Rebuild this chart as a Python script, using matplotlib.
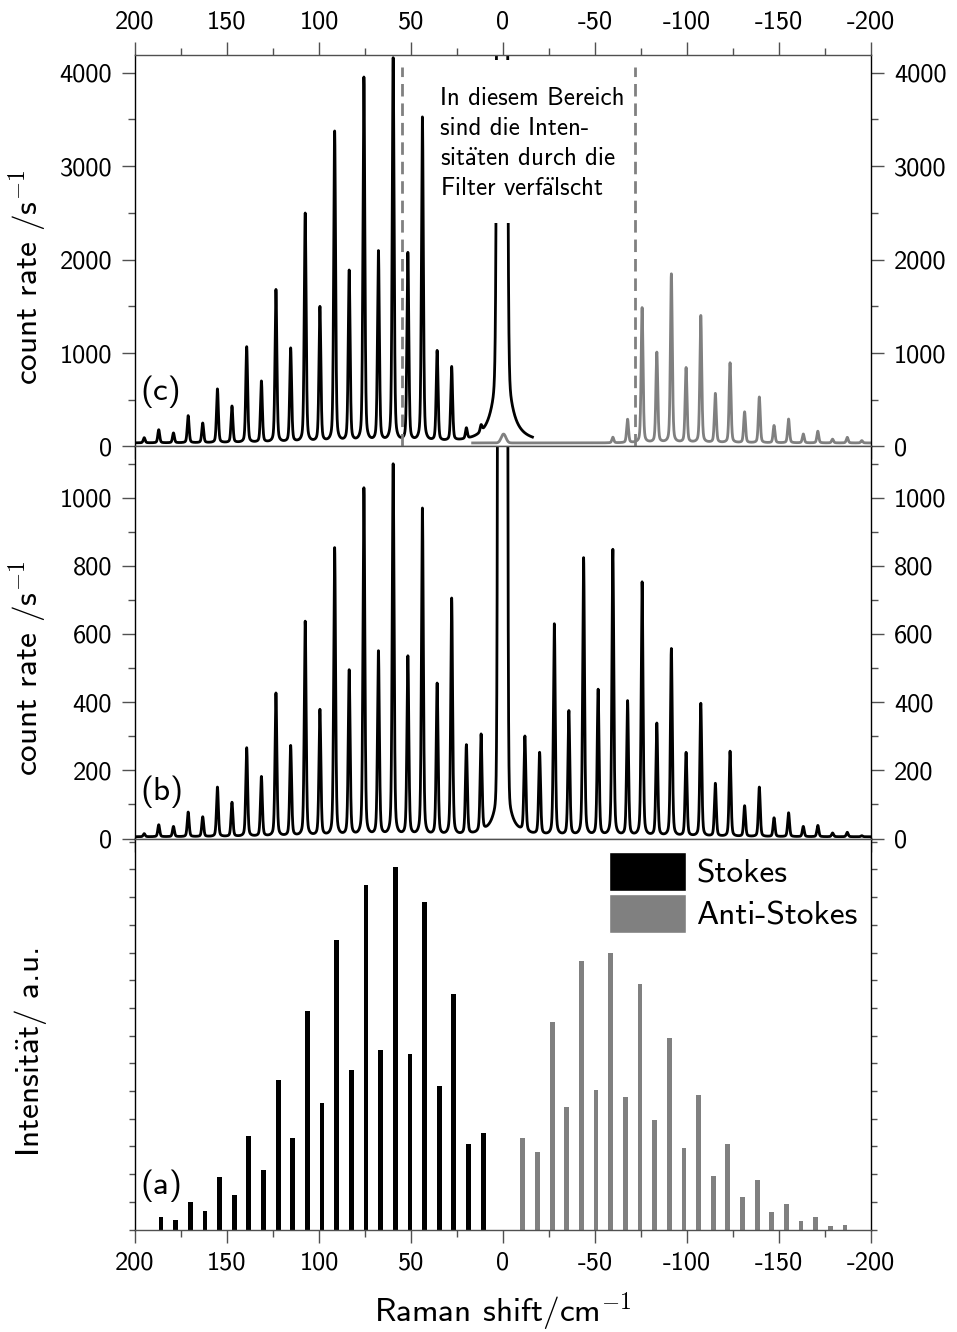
import numpy as np
import matplotlib.pyplot as plt
from matplotlib.patches import Rectangle, Patch
from matplotlib.ticker import MultipleLocator, NullFormatter

plt.rcParams['font.family'] = ['cmss10', 'DejaVu Sans']
plt.rcParams['mathtext.fontset'] = 'cm'
plt.rcParams['axes.unicode_minus'] = False

AE = '$\\ddot{\\mathsf{a}}$'  # a-umlaut drawn with the CM sans font

# rotational Raman lines (J = 0 .. 23), shift in cm^-1
line_pos = [11.9, 19.9, 27.9, 35.8, 43.8, 51.7, 59.7, 67.7, 75.6, 83.6, 91.5, 99.5,
            107.5, 115.4, 123.4, 131.3, 139.3, 147.3, 155.2, 163.2, 171.1, 179.1, 187.1, 195.0]

# (c) measured with filters
stokes_c = [70, 113, 790, 965, 3470, 2015, 4105, 2035, 3900, 1830, 3325, 1445,
            2450, 1005, 1635, 655, 1025, 390, 575, 210, 290, 105, 140, 55]
anti_c = [0, 0, 0, 0, 0, 0, 60, 250, 1445, 965, 1805, 800,
          1360, 525, 855, 330, 490, 185, 255, 95, 125, 40, 60, 25]
base_c = 38
leak_c = 95
filter_edges = [54.7, -72.0]
filter_top = 4060

# (b) measured without filters
stokes_b = [285, 262, 695, 445, 960, 525, 1090, 540, 1020, 485, 845, 370,
            630, 265, 420, 175, 260, 100, 145, 58, 72, 30, 35, 9]
anti_b = [280, 240, 620, 365, 815, 428, 840, 395, 745, 330, 550, 245,
          390, 155, 250, 90, 145, 55, 70, 30, 33, 11, 13, 3]
base_b = 5

# (a) calculated line intensities (J = 0 .. 22)
bar_pos = [10.8, 18.8, 26.7, 34.7, 42.6, 50.6, 58.6, 66.5, 74.5, 82.4, 90.4, 98.4,
           106.3, 114.3, 122.2, 130.2, 138.2, 146.1, 154.1, 162.0, 170.0, 178.0, 185.9]
bar_stokes = [97, 85.7, 235.7, 144, 327.3, 175.7, 362.3, 179.3, 344.7, 159.7, 289.7, 127,
              218.3, 91.3, 149.7, 59.7, 93.3, 35, 53, 19, 27.3, 9.7, 13]
bar_anti = [92, 78, 208, 122.7, 269, 139.7, 277, 132.3, 245.3, 110, 192, 81.7,
            135, 54, 86, 33, 49.7, 18, 26, 9, 12.7, 4, 5]

GRAY = '#808080'
SPINE = '#505050'


def lines(x, pos, heights, hwhm=0.6, eta=0.35):
    y = np.zeros_like(x)
    for p, h in zip(pos, heights):
        u = (x - p) / hwhm
        y += h * (eta / (1 + u ** 2) + (1 - eta) * np.exp(-np.log(2) * u ** 2))
    return y


def rayleigh(x, center, core_amp, core_sigma, wing_amp, wing_hwhm):
    d = x - center
    return core_amp * np.exp(-d ** 2 / (2 * core_sigma ** 2)) + wing_amp / (1 + (d / wing_hwhm) ** 2)


x = np.linspace(200, -200, 16001)
neg_pos = [-p for p in line_pos]

c_black = base_c + lines(x, line_pos, stokes_c) + rayleigh(x, 0.5, 1.6e5, 1.1, 1340, 3.65)
c_gray = base_c + lines(x, neg_pos, anti_c) + lines(x, [-0.3], [leak_c], hwhm=1.5, eta=0.0)
b_curve = (base_b + lines(x, line_pos, stokes_b) + lines(x, neg_pos, anti_b)
           + rayleigh(x, 0.2, 1.5e5, 0.9, 271, 2.86))

fig = plt.figure(figsize=(9.57, 13.32), dpi=100)
L, W = 135 / 957, 736 / 957
axc = fig.add_axes([L, 1 - 446.5 / 1332, W, 391.5 / 1332])
axb = fig.add_axes([L, 1 - 838.5 / 1332, W, 392 / 1332])
axa = fig.add_axes([L, 1 - 1229.5 / 1332, W, 391 / 1332])

# (c)
mb = x >= -16
mg = x <= 16.5
axc.plot(x[mg], c_gray[mg], color=GRAY, lw=2.0, zorder=2)
axc.plot(x[mb], c_black[mb], color='black', lw=2.0, zorder=2)
axc.vlines(filter_edges, 0, filter_top, colors=GRAY, lw=2.0, linestyles=(0, (4.5, 2.5)), zorder=4)
axc.add_patch(Rectangle((38, 2390), -104, 1750, facecolor='white', edgecolor='none', zorder=3))
note = ('In diesem Bereich\nsind die Inten-\nsit' + AE + 'ten durch die\nFilter verf' + AE + 'lscht')
axc.text(34.4, 3850, note, fontsize=18, ha='left', va='top', linespacing=1.4, zorder=5)
axc.set_ylim(0, 4190)
axc.yaxis.set_major_locator(MultipleLocator(1000))
axc.yaxis.set_minor_locator(MultipleLocator(500))

# (b)
axb.plot(x, b_curve, color='black', lw=2.0)
axb.set_ylim(0, 1150)
axb.yaxis.set_major_locator(MultipleLocator(200))
axb.yaxis.set_minor_locator(MultipleLocator(100))

# (a)
axa.bar(bar_pos, bar_stokes, width=2.6, color='black', label='Stokes')
axa.bar([-p for p in bar_pos], bar_anti, width=2.6, color=GRAY, label='Anti-Stokes')
axa.set_ylim(0, 391)
axa.yaxis.set_major_locator(MultipleLocator(27.7))
axa.yaxis.set_major_formatter(NullFormatter())
handles = [Patch(facecolor='black', edgecolor='white', label='Stokes'),
           Patch(facecolor=GRAY, edgecolor='white', label='Anti-Stokes')]
axa.legend(handles=handles, loc='upper right', frameon=False, fontsize=24, handlelength=2.3,
           handleheight=1.42, labelspacing=0.1, handletextpad=0.32, borderaxespad=0.1,
           borderpad=0.3)

for ax in (axc, axb, axa):
    ax.set_xlim(200, -200)
    ax.xaxis.set_major_locator(MultipleLocator(50))
    ax.xaxis.set_minor_locator(MultipleLocator(25))
    for s in ('top', 'bottom'):
        ax.spines[s].set_color(SPINE)
        ax.spines[s].set_linewidth(1.0)
    for s in ('left', 'right'):
        ax.spines[s].set_color('black')
        ax.spines[s].set_linewidth(1.0)
    ax.tick_params(axis='x', which='major', direction='out', length=9.5, width=1, color=SPINE,
                   labelsize=19, pad=6, labelbottom=False)
    ax.tick_params(axis='x', which='minor', direction='out', length=5, width=1, color=SPINE)
    ax.tick_params(axis='y', which='major', direction='out', length=9.5, width=1, color=SPINE,
                   labelsize=19, pad=7, left=True, right=True, labelleft=True, labelright=True)
    ax.tick_params(axis='y', which='minor', direction='out', length=5, width=1, color=SPINE,
                   left=True, right=True)

axc.tick_params(axis='x', which='both', top=True, labeltop=True)
axa.tick_params(axis='x', which='major', labelbottom=True)
axa.tick_params(axis='y', which='major', length=4.5)

axc.set_ylabel('count rate /s$^{\\mathsf{-1}}$', fontsize=24)
axb.set_ylabel('count rate /s$^{\\mathsf{-1}}$', fontsize=24)
axa.set_ylabel('Intensit' + AE + 't/ a.u.', fontsize=24)
axc.yaxis.set_label_coords(-0.117, 0.433)
axb.yaxis.set_label_coords(-0.117, 0.435)
axa.yaxis.set_label_coords(-0.117, 0.453)
axa.set_xlabel('Raman shift/cm$^{\\mathsf{-1}}$', fontsize=24, labelpad=12)

axc.text(0.007, 0.139, '(c)', transform=axc.transAxes, fontsize=24, va='center')
axb.text(0.007, 0.119, '(b)', transform=axb.transAxes, fontsize=24, va='center')
axa.text(0.007, 0.111, '(a)', transform=axa.transAxes, fontsize=24, va='center')

fig.savefig('out.png', dpi=100)
